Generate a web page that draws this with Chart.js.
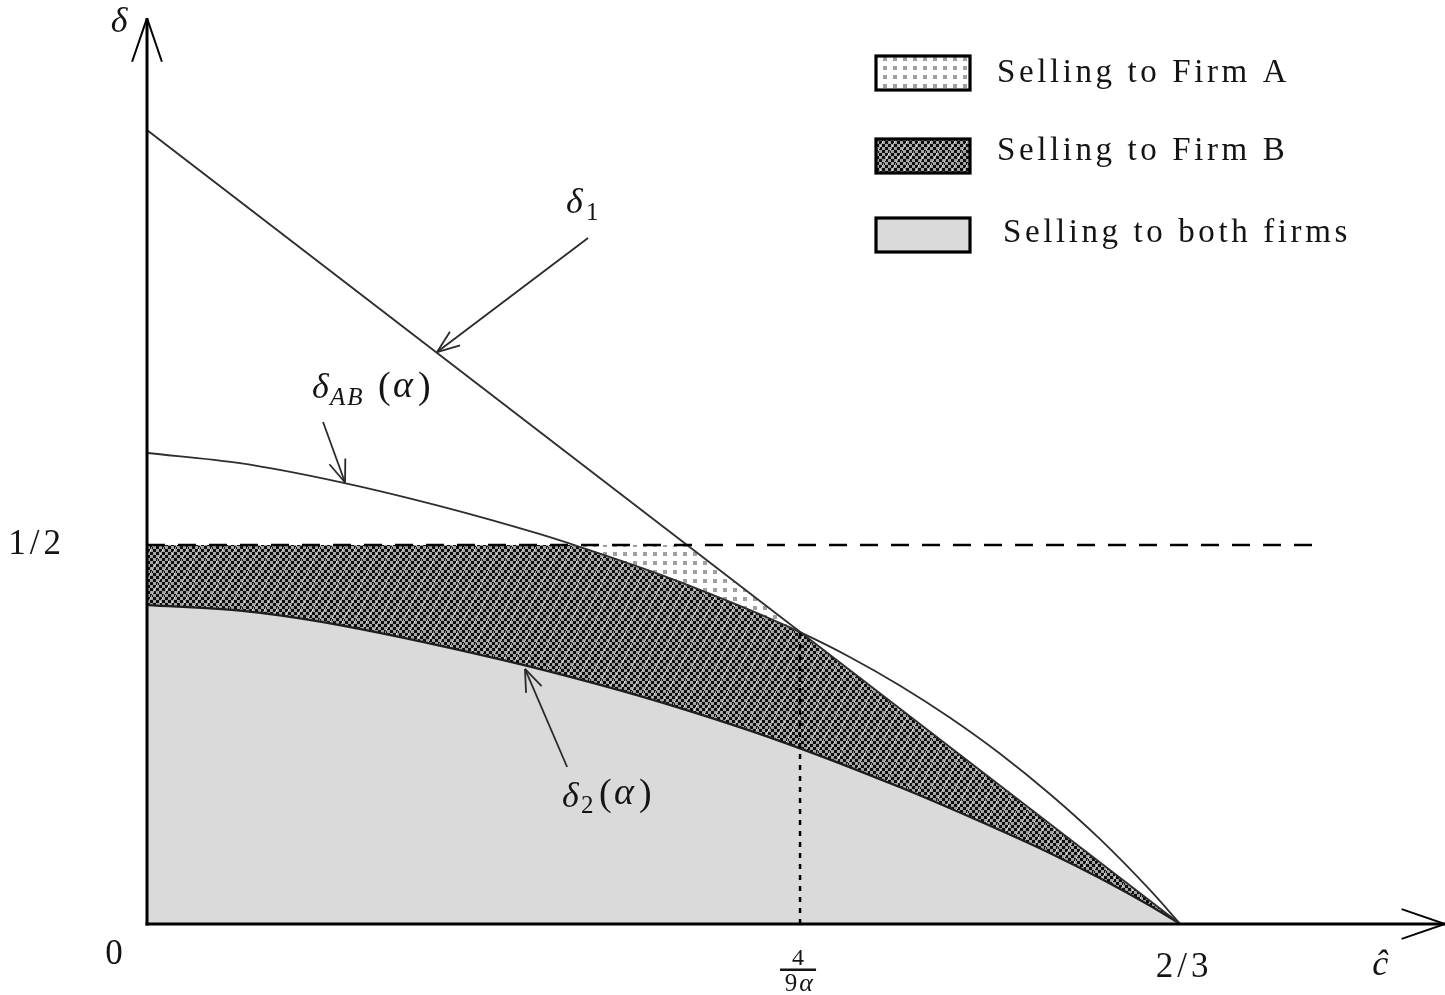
<!DOCTYPE html>
<html><head><meta charset="utf-8">
<script src="https://cdn.jsdelivr.net/npm/chart.js@4.4.1/dist/chart.umd.min.js"></script>
<style>html,body{margin:0;padding:0;background:#fff;}canvas{display:block;}</style>
</head><body>
<canvas id="c" width="1445" height="995"></canvas>
<script>
// ---- data ----
const HALF = 0.5;
const cBar = 0.4214;          // 4/(9α)
const delta1 = [{x:0,y:1.0475},{x:0.6667,y:0}];
const deltaAB = [
  {x:0,y:0.6214},{x:0.0600,y:0.6079},{x:0.1246,y:0.5829},{x:0.1891,y:0.5512},
  {x:0.2536,y:0.5142},{x:0.2782,y:0.4982},{x:0.3246,y:0.4658},{x:0.3614,y:0.4372},
  {x:0.3892,y:0.4140},{x:0.4214,y:0.3850},{x:0.4537,y:0.3520},{x:0.4860,y:0.3144},
  {x:0.5182,y:0.2722},{x:0.5505,y:0.2247},{x:0.5828,y:0.1712},{x:0.6150,y:0.1119},
  {x:0.6473,y:0.0446},{x:0.6667,y:0}
];
const delta2 = [
  {x:0,y:0.4208},{x:0.0600,y:0.4135},{x:0.1136,y:0.3982},{x:0.2278,y:0.3491},
  {x:0.2924,y:0.3154},{x:0.3440,y:0.2848},{x:0.4085,y:0.2413},{x:0.4860,y:0.1803},
  {x:0.5505,y:0.1236},{x:0.5828,y:0.0933},{x:0.6150,y:0.0603},{x:0.6473,y:0.0240},
  {x:0.6667,y:0}
];
const halfLine = [{x:0,y:HALF},{x:0.760,y:HALF}];
const cBarLine = [{x:cBar,y:0},{x:cBar,y:0.3850}];
const xTickVals = [0, cBar, 0.6667];
const xTickLabels = ['0', '4/(9α)', '2/3'];
const yTickVals = [HALF];
const yTickLabels = ['1/2'];
const legendLabels = ['Selling to Firm A', 'Selling to Firm B', 'Selling to both firms'];

// ---- patterns ----
const canvas = document.getElementById('c');
const ctx = canvas.getContext('2d');
function makePatternA(){
  const t=document.createElement('canvas'); t.width=10; t.height=9;
  const g=t.getContext('2d'); g.fillStyle='#fff'; g.fillRect(0,0,10,9);
  g.fillStyle='#a0a0a0'; g.fillRect(3,3,4,4);
  return ctx.createPattern(t,'repeat');
}
function makePatternB(){
  const n=24, t=document.createElement('canvas'); t.width=n; t.height=n;
  const g=t.getContext('2d');
  for(let y=0;y<n;y+=3) for(let x=0;x<n;x+=3){
    g.fillStyle = ((x+y)/3)%2===0 ? '#0e0e0e' : '#a4a4a4';
    g.fillRect(x,y,3,3);
  }
  g.fillStyle='rgba(255,255,255,0.6)';
  for(let i=0;i<n;i++){ g.fillRect((i+5)%n, (n-1-i*2+n*4)%n, 1, 2); }
  return ctx.createPattern(t,'repeat');
}
const patA = makePatternA(), patB = makePatternB();

// ---- overlay: axes, labels, arrows, legend ----
const SERIF = '"Liberation Serif","Times New Roman",serif';
const INK = '#141414';
const overlay = {
  id:'overlay',
  afterDatasetsDraw(chart){
    const c=chart.ctx, xs=chart.scales.x, ys=chart.scales.y;
    const X=v=>xs.getPixelForValue(v), Y=v=>ys.getPixelForValue(v);
    const ln=(a,b,d,e)=>{c.beginPath();c.moveTo(a,b);c.lineTo(d,e);c.stroke();};
    const head=(tx,ty,fx,fy,len,ang)=>{
      const a=Math.atan2(fy-ty,fx-tx);
      ln(tx,ty,tx+len*Math.cos(a+ang),ty+len*Math.sin(a+ang));
      ln(tx,ty,tx+len*Math.cos(a-ang),ty+len*Math.sin(a-ang));
    };
    const T=(s,x,y,font,align,ls)=>{
      c.font=font; c.letterSpacing=(ls||0)+'px'; c.textAlign=align||'left';
      c.textBaseline='alphabetic'; c.fillStyle=INK; c.fillText(s,x,y);
    };
    c.save();
    const x0=X(0), y0=Y(0), xt=X(0.8377), yt=Y(1.195);
    // axes
    c.strokeStyle='#000'; c.lineWidth=3; c.lineCap='butt';
    ln(x0-1.5,y0,xt,y0); ln(x0,y0+1.5,x0,yt);
    c.lineWidth=2;
    head(x0,yt,x0,yt+100,46,0.33);
    head(xt,y0,xt-100,y0,46,0.33);
    // annotation arrows (data coords)
    c.strokeStyle='#2a2a2a'; c.lineWidth=1.8;
    const arrows=[[0.2846,0.9050,0.1872,0.7545],[0.1136,0.6623,0.1278,0.5825],[0.2711,0.2071,0.2439,0.3365]];
    for(const [a,b,d,e] of arrows){ ln(X(a),Y(b),X(d),Y(e)); head(X(d),Y(e),X(a),Y(b),24,0.36); }
    // tick labels
    const up='35px '+SERIF, it='italic 36px '+SERIF;
    T(xTickLabels[0], X(xTickVals[0])-32, 964, up, 'center', 2);
    const fx=X(xTickVals[1])-2;
    T('4', fx, 965, '24px '+SERIF, 'center', 0);
    c.fillStyle=INK; c.fillRect(fx-18, 968.5, 36, 2.5);
    T('9', fx-7, 991, '25px '+SERIF, 'center', 0);
    T('α', fx+8, 991, 'italic 26px '+SERIF, 'center', 0);
    T(xTickLabels[2], X(xTickVals[2])+4, 977, up, 'center', 4);
    T(yTickLabels[0], X(0)-82, Y(yTickVals[0])+9, up, 'right', 4);
    T('ĉ', xt-65, 975, it, 'center', 0);
    T('δ', x0-28, yt+14, it, 'center', 0);
    // curve labels
    const paren=(x,y)=>{
      T('(', x, y, '38px '+SERIF, 'left', 0);
      T('α', x+15, y-1, 'italic 38px '+SERIF, 'left', 0);
      T(')', x+40, y, '38px '+SERIF, 'left', 0);
    };
    let ax=X(0.2704), ay=Y(0.938);
    T('δ', ax, ay, it, 'left', 0); T('1', ax+20, ay+7, '25px '+SERIF, 'left', 0);
    ax=X(0.1065); ay=Y(0.6939);
    T('δ', ax, ay, it, 'left', 0); T('AB', ax+18, ay+7, 'italic 25px '+SERIF, 'left', 2);
    paren(ax+66, ay);
    ax=X(0.2678); ay=Y(0.1544);
    T('δ', ax, ay, it, 'left', 0); T('2', ax+19, ay+6, '25px '+SERIF, 'left', 0);
    paren(ax+37, ay-2);
    // legend
    const fills=[patA,patB,'#dadada'], tops=[56,139,218], bases=[82,160,242], tx=[997,997,1003];
    for(let i=0;i<3;i++){
      c.fillStyle=fills[i]; c.fillRect(876,tops[i],94,34);
      c.strokeStyle='#000'; c.lineWidth=3.2; c.strokeRect(876,tops[i],94,34);
      T(legendLabels[i], tx[i], bases[i], '33px '+SERIF, 'left', 3.6);
    }
    c.restore();
  }
};

const smooth = {cubicInterpolationMode:'monotone'};
const none = 'rgba(0,0,0,0)';
new Chart(ctx,{
  type:'line',
  data:{datasets:[
    {label:'δ1', data:delta1, borderColor:'#2e2e2e', borderWidth:1.8, fill:false, order:1},
    Object.assign({label:'δAB(α)', data:deltaAB, borderColor:'#2e2e2e', borderWidth:1.8, fill:false, order:1}, smooth),
    Object.assign({label:'δ2(α)', data:delta2, borderColor:'#1e1e1e', borderWidth:2.2, fill:false, order:1}, smooth),
    {label:'1/2', data:halfLine, borderColor:'#000', borderWidth:2.6, borderDash:[18,13], fill:false, order:0},
    {label:'4/(9α)', data:cBarLine, borderColor:'#000', borderWidth:2.5, borderDash:[5,6], fill:false, order:0},
    // fills, layered bottom (high order) to top
    {label:'Selling to Firm A', data:delta1, borderWidth:0, borderColor:none, backgroundColor:patA, fill:'origin', order:10},
    Object.assign({label:'Selling to Firm B', data:deltaAB, borderWidth:0, borderColor:none, backgroundColor:patB, fill:'origin', order:9}, smooth),
    {label:'above δ1', data:delta1, borderWidth:0, borderColor:none, backgroundColor:'#ffffff', fill:'end', order:8},
    {label:'above 1/2', data:halfLine, borderWidth:0, borderColor:none, backgroundColor:'#ffffff', fill:'end', order:7},
    Object.assign({label:'Selling to both firms', data:delta2, borderWidth:0, borderColor:none, backgroundColor:'#dadada', fill:'origin', order:6}, smooth)
  ]},
  options:{
    responsive:false, animation:false, events:[],
    layout:{padding:{left:147,right:4,top:14.4,bottom:71}},
    scales:{x:{type:'linear',min:0,max:0.835,display:false},y:{type:'linear',min:0,max:1.2,display:false}},
    plugins:{legend:{display:false},tooltip:{enabled:false}},
    elements:{point:{radius:0},line:{tension:0}}
  },
  plugins:[overlay]
});
</script>
</body></html>
